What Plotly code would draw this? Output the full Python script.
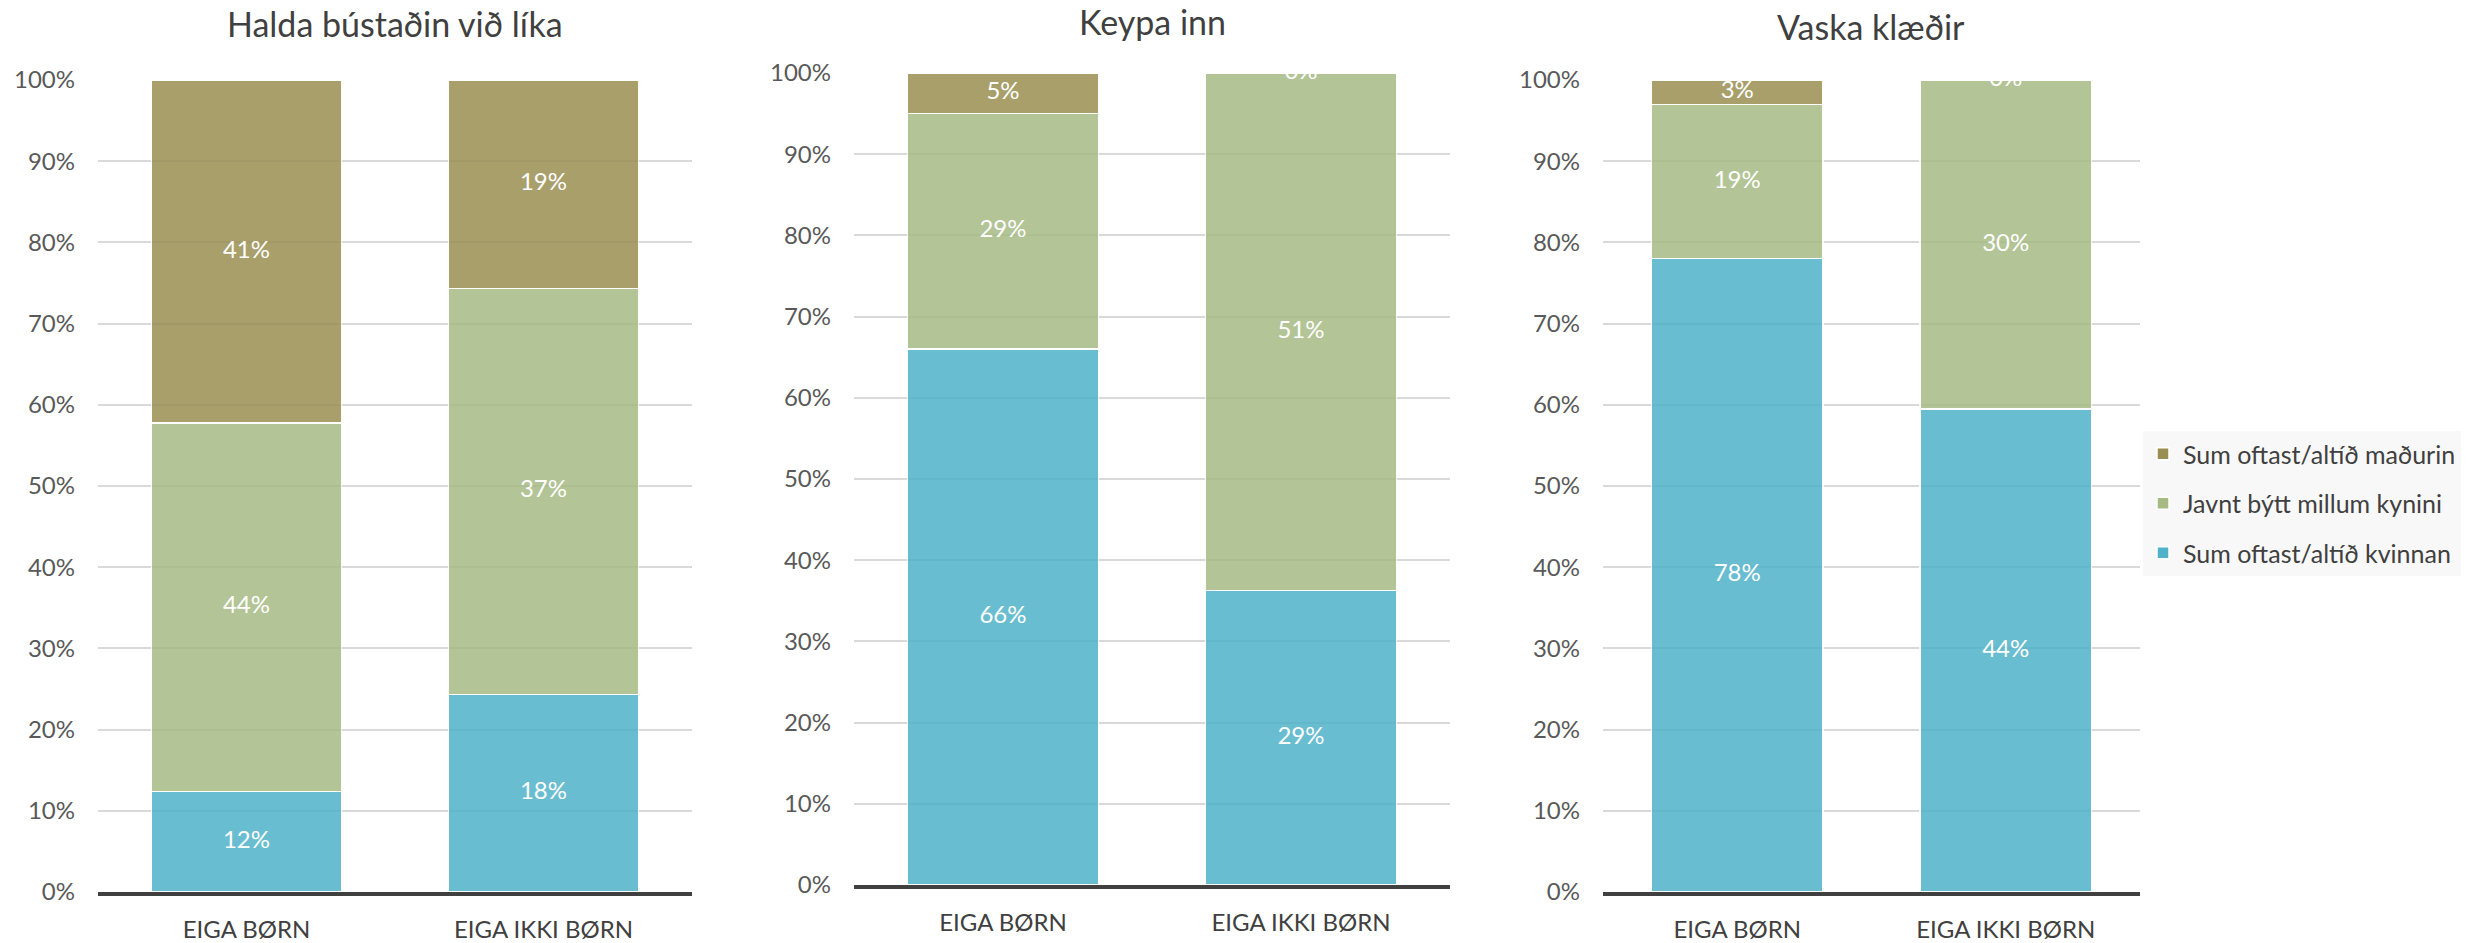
import plotly.graph_objects as go

categories = ["EIGA BØRN", "EIGA IKKI BØRN"]
panel_titles = ["Halda bústaðin við líka", "Keypa inn", "Vaska klæðir"]
series_names = ["Sum oftast/altíð kvinnan", "Javnt býtt millum kynini", "Sum oftast/altíð maðurin"]
legend_ranks = [3, 2, 1]

halda_kvinnan = [12, 18]
halda_javnt = [44, 37]
halda_madurin = [41, 19]

keypa_kvinnan = [66, 29]
keypa_javnt = [29, 51]
keypa_madurin = [5, 0]

vaska_kvinnan = [78, 44]
vaska_javnt = [19, 30]
vaska_madurin = [3, 0]

panels = [
    [halda_kvinnan, halda_javnt, halda_madurin],
    [keypa_kvinnan, keypa_javnt, keypa_madurin],
    [vaska_kvinnan, vaska_javnt, vaska_madurin],
]

colors = ["#4FB2C9", "#A6BA84", "#998F52"]
FONT = "Lato"

W, H = 2476, 943


def px(X):
    return X / W


def py(Y):
    return 1 - Y / H


areas = [(98, 692, 80, 892), (854, 1450, 73, 885), (1603, 2140, 80, 892)]
title_y = [23.5, 22, 26.5]

fig = go.Figure()
for p, series in enumerate(panels):
    xa = "x" if p == 0 else f"x{p+1}"
    ya = "y" if p == 0 else f"y{p+1}"
    for s, vals in enumerate(series):
        fig.add_trace(go.Bar(
            x=categories, y=vals, name=series_names[s],
            marker=dict(color=colors[s], opacity=0.85, line=dict(color="white", width=1.5)),
            legendgroup=series_names[s], legendrank=legend_ranks[s],
            showlegend=(p == 0),
            xaxis=xa, yaxis=ya,
        ))
    # label positions: midpoints of normalized segments
    xs, ys, ts = [], [], []
    for c in range(len(categories)):
        total = sum(series[s][c] for s in range(len(series)))
        cum = 0
        for s in range(len(series)):
            v = series[s][c]
            mid = (cum + v / 2) / total * 100
            cum += v
            xs.append(categories[c]); ys.append(mid); ts.append(f"{v}%")
    fig.add_trace(go.Scatter(
        x=xs, y=ys, text=ts, mode="text", textposition="middle center",
        textfont=dict(color="white", size=24, family=FONT),
        cliponaxis=True, showlegend=False, hoverinfo="skip",
        xaxis=xa, yaxis=ya,
    ))

layout = dict(
    width=W, height=H,
    margin=dict(l=0, r=0, t=0, b=0, autoexpand=False),
    paper_bgcolor="white", plot_bgcolor="white",
    barmode="stack", barnorm="percent", bargap=0.36,
    font=dict(family=FONT, color="#595959"),
    hovermode=False,
    legend=dict(
        x=px(2143), y=py(431), xanchor="left", yanchor="top",
        bgcolor="#F8F8F8", font=dict(size=25, color="#404040", family=FONT),
        traceorder="grouped", tracegroupgap=14,
        itemwidth=30,
    ),
    annotations=[],
)
for p, (x0, x1, y0, y1) in enumerate(areas):
    sfx = "" if p == 0 else str(p + 1)
    layout["xaxis" + sfx] = dict(
        domain=[px(x0), px(x1)], anchor="y" + sfx, automargin=False,
        showgrid=False, showline=True, linecolor="#404040", linewidth=4,
        ticks="", tickfont=dict(size=24, color="#404040", family=FONT),
        ticklabelstandoff=13, fixedrange=True,
    )
    layout["yaxis" + sfx] = dict(
        domain=[py(y1), py(y0)], anchor="x" + sfx, automargin=False,
        range=[0, 100], dtick=10, ticksuffix="%",
        showgrid=True, gridcolor="#D9D9D9", gridwidth=2,
        zeroline=False, showline=False, ticks="",
        tickfont=dict(size=24, color="#595959", family=FONT),
        ticklabelstandoff=22, fixedrange=True,
    )
    layout["annotations"].append(dict(
        text=panel_titles[p], x=px((x0 + x1) / 2), y=py(title_y[p]),
        xref="paper", yref="paper", xanchor="center", yanchor="middle",
        showarrow=False, font=dict(size=34, color="#404040", family=FONT),
    ))

fig.update_layout(**layout)
fig.write_html(
    "out.html",
    config={"displayModeBar": False, "staticPlot": True},
    post_script=(
        "document.body.style.margin='0';"
        "document.body.style.overflow='hidden';"
        "document.documentElement.style.overflow='hidden';"
    ),
)
